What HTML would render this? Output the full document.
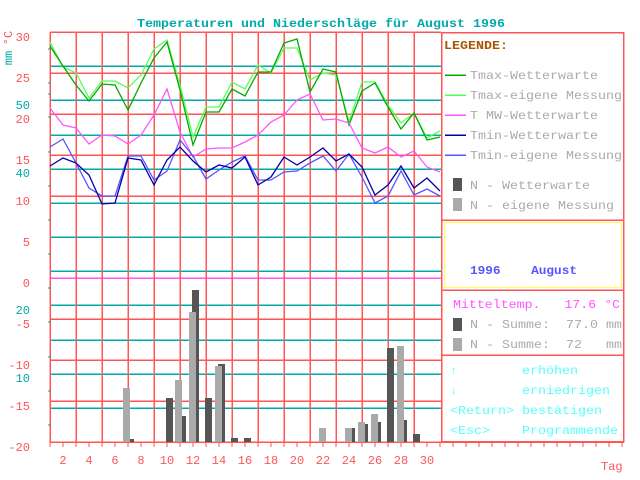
<!DOCTYPE html>
<html><head><meta charset="utf-8"><style>
html,body{margin:0;padding:0;background:#fff;width:640px;height:480px;overflow:hidden}
svg{display:block}
text{font-family:"Liberation Mono",monospace;font-size:12px;white-space:pre}
</style></head><body>
<svg width="640" height="480" viewBox="0 0 640 480" xmlns="http://www.w3.org/2000/svg" shape-rendering="crispEdges" xml:space="preserve">
<text x="137" y="27" fill="#00aaaa" font-weight="bold" textLength="368" lengthAdjust="spacingAndGlyphs">Temperaturen und Niederschläge für August 1996</text>
<g stroke="#00aaaa" stroke-width="1.5">
<line x1="50" x2="441" y1="66" y2="66"/><line x1="50" x2="441" y1="100" y2="100"/><line x1="50" x2="441" y1="135" y2="135"/><line x1="50" x2="441" y1="169" y2="169"/><line x1="50" x2="441" y1="203" y2="203"/><line x1="50" x2="441" y1="237" y2="237"/><line x1="50" x2="441" y1="271" y2="271"/><line x1="50" x2="441" y1="305" y2="305"/><line x1="50" x2="441" y1="340" y2="340"/><line x1="50" x2="441" y1="374" y2="374"/><line x1="50" x2="441" y1="408" y2="408"/>
</g>
<line x1="50" x2="441" y1="278" y2="278" stroke="#ff55ff" stroke-width="1.5"/>
<g stroke="#ff5555" stroke-width="1.5">
<line x1="50" x2="441" y1="32" y2="32"/><line x1="50" x2="441" y1="73" y2="73"/><line x1="50" x2="441" y1="114" y2="114"/><line x1="50" x2="441" y1="155" y2="155"/><line x1="50" x2="441" y1="196" y2="196"/><line x1="50" x2="441" y1="319" y2="319"/><line x1="50" x2="441" y1="360" y2="360"/><line x1="50" x2="441" y1="401" y2="401"/><line x1="50" x2="624" y1="442" y2="442"/>
<line x1="50" x2="50" y1="32" y2="442"/><line x1="76" x2="76" y1="32" y2="442"/><line x1="102" x2="102" y1="32" y2="442"/><line x1="128" x2="128" y1="32" y2="442"/><line x1="154" x2="154" y1="32" y2="442"/><line x1="180" x2="180" y1="32" y2="442"/><line x1="206" x2="206" y1="32" y2="442"/><line x1="232" x2="232" y1="32" y2="442"/><line x1="258" x2="258" y1="32" y2="442"/><line x1="284" x2="284" y1="32" y2="442"/><line x1="310" x2="310" y1="32" y2="442"/><line x1="336" x2="336" y1="32" y2="442"/><line x1="362" x2="362" y1="32" y2="442"/><line x1="388" x2="388" y1="32" y2="442"/><line x1="414" x2="414" y1="32" y2="442"/>
</g>
<g stroke="#ff5555" stroke-width="1">
<path d="M50 442v5M63 442v5M76 442v5M89 442v5M102 442v5M115 442v5M128 442v5M141 442v5M154 442v5M167 442v5M180 442v5M193 442v5M206 442v5M219 442v5M232 442v5M245 442v5M258 442v5M271 442v5M284 442v5M297 442v5M310 442v5M323 442v5M336 442v5M349 442v5M362 442v5M375 442v5M388 442v5M401 442v5M414 442v5M427 442v5M440 442v5M453 442v5M466 442v5M479 442v5M492 442v5M505 442v5M518 442v5M531 442v5M544 442v5M557 442v5M570 442v5M583 442v5M596 442v5M609 442v5M622 442v5"/>
</g>
<g stroke="#00aaaa" stroke-width="1"><path d="M48 49h3M48 83h3M48 94h3M48 117h3M48 152h3M48 186h3M48 220h3M48 254h3M48 288h3M48 322h3M48 357h3M48 391h3M48 425h3"/></g>
<g fill="#555555">
<rect x="127" y="439" width="7" height="3"/><rect x="166" y="398" width="7" height="44"/><rect x="179" y="416" width="7" height="26"/><rect x="192" y="290" width="7" height="152"/><rect x="205" y="398" width="7" height="44"/><rect x="218" y="364" width="7" height="78"/><rect x="231" y="438" width="7" height="4"/><rect x="244" y="438" width="7" height="4"/><rect x="348" y="428" width="7" height="14"/><rect x="361" y="424" width="7" height="18"/><rect x="374" y="422" width="7" height="20"/><rect x="387" y="348" width="7" height="94"/><rect x="400" y="420" width="7" height="22"/><rect x="413" y="434" width="7" height="8"/>
</g>
<g fill="#aaaaaa">
<rect x="123" y="388" width="7" height="54"/><rect x="175" y="380" width="7" height="62"/><rect x="189" y="312" width="7" height="130"/><rect x="215" y="366" width="7" height="76"/><rect x="319" y="428" width="7" height="14"/><rect x="345" y="428" width="7" height="14"/><rect x="358" y="422" width="7" height="20"/><rect x="371" y="414" width="7" height="28"/><rect x="397" y="346" width="7" height="96"/>
</g>
<g fill="none" stroke-width="1.3" shape-rendering="auto">
<polyline stroke="#55ff55" points="50,42 63,67 76,73 89,98 102,81 115,81 128,88 141,75 154,49 167,40 180,85 193,137 206,107 219,107 232,82 245,89 258,65 271,73 284,48 297,48 310,80 323,73 336,75 349,122 362,82 375,82 388,105 401,123 414,113 427,138 440,131"/>
<polyline stroke="#00aa00" points="50,46 63,66 76,85 89,101 102,84 115,85 128,110 141,83 154,58 167,42 180,90 193,145 206,112 219,112 232,89 245,96 258,72 271,72 284,43 297,39 310,92 323,69 336,72 349,125 362,91 375,83 388,107 401,129 414,113 427,140 440,137"/>
<polyline stroke="#ff55ff" points="50,108 63,125 76,128 89,144 102,135 115,136 128,144 141,135 154,115 167,89 180,132 193,157 206,149 219,148 232,148 245,142 258,135 271,122 284,115 297,100 310,94 323,120 336,119 349,123 362,148 375,153 388,147 401,157 414,151 427,167 440,172"/>
<polyline stroke="#5555ff" points="50,147 63,139 76,163 89,188 102,196 115,196 128,156 141,156 154,180 167,171 180,140 193,156 206,179 219,170 232,162 245,156 258,180 271,180 284,172 297,171 310,163 323,156 336,171 349,154 362,177 375,203 388,196 401,171 414,195 427,189 440,196"/>
<polyline stroke="#0000aa" points="50,166 63,158 76,163 89,175 102,204 115,203 128,158 141,160 154,185 167,160 180,147 193,161 206,172 219,165 232,168 245,157 258,185 271,177 284,157 297,165 310,157 323,148 336,161 349,154 362,167 375,195 388,185 401,166 414,188 427,178 440,191"/>
</g>
<g fill="#ff5555" text-anchor="end">
<text x="30" y="41">30</text><text x="30" y="82">25</text><text x="30" y="123">20</text><text x="30" y="164">15</text><text x="30" y="205">10</text><text x="30" y="246">5</text><text x="30" y="287">0</text><text x="30" y="328">-5</text><text x="30" y="369">-10</text><text x="30" y="410">-15</text><text x="30" y="451">-20</text>
</g>
<g fill="#00aaaa" text-anchor="end">
<text x="30" y="109">50</text><text x="30" y="177">40</text><text x="30" y="314">20</text><text x="30" y="382">10</text>
</g>
<text transform="translate(12,38) rotate(-90)" fill="#ff5555" font-size="10" text-anchor="middle">°C</text>
<text transform="translate(12,58) rotate(-90)" fill="#00aaaa" font-size="10" text-anchor="middle">mm</text>
<g fill="#ff5555" text-anchor="middle">
<text x="63" y="464">2</text><text x="89" y="464">4</text><text x="115" y="464">6</text><text x="141" y="464">8</text><text x="167" y="464">10</text><text x="193" y="464">12</text><text x="219" y="464">14</text><text x="245" y="464">16</text><text x="271" y="464">18</text><text x="297" y="464">20</text><text x="323" y="464">22</text><text x="349" y="464">24</text><text x="375" y="464">26</text><text x="401" y="464">28</text><text x="427" y="464">30</text>
</g>
<text x="601" y="470" fill="#ff5555">Tag</text>
<rect x="441.5" y="32.5" width="182" height="409" fill="#fff" stroke="#ff5555" stroke-width="1.5"/>
<g stroke="#ff5555" stroke-width="1.5"><line x1="441" x2="624" y1="220" y2="220"/><line x1="441" x2="624" y1="290" y2="290"/><line x1="441" x2="624" y1="355" y2="355"/></g>
<rect x="444.5" y="222.5" width="177" height="65" fill="none" stroke="#ffff55" stroke-width="1"/>
<text x="444" y="49" fill="#aa5500" font-weight="bold" textLength="64" lengthAdjust="spacingAndGlyphs">LEGENDE:</text>
<g stroke-width="1.5"><line x1="445" x2="466" y1="75" y2="75" stroke="#00aa00"/><line x1="445" x2="466" y1="95" y2="95" stroke="#55ff55"/><line x1="445" x2="466" y1="115" y2="115" stroke="#ff55ff"/><line x1="445" x2="466" y1="135" y2="135" stroke="#0000aa"/><line x1="445" x2="466" y1="155" y2="155" stroke="#5555ff"/></g>
<g fill="#aaaaaa">
<text x="470" y="79" textLength="128" lengthAdjust="spacingAndGlyphs">Tmax-Wetterwarte</text>
<text x="470" y="99" textLength="152" lengthAdjust="spacingAndGlyphs">Tmax-eigene Messung</text>
<text x="470" y="119" textLength="128" lengthAdjust="spacingAndGlyphs">T MW-Wetterwarte</text>
<text x="470" y="139" textLength="128" lengthAdjust="spacingAndGlyphs">Tmin-Wetterwarte</text>
<text x="470" y="159" textLength="152" lengthAdjust="spacingAndGlyphs">Tmin-eigene Messung</text>
<text x="470" y="189" textLength="120" lengthAdjust="spacingAndGlyphs">N - Wetterwarte</text>
<text x="470" y="209" textLength="144" lengthAdjust="spacingAndGlyphs">N - eigene Messung</text>
<text x="470" y="328" textLength="152" lengthAdjust="spacingAndGlyphs">N - Summe:  77.0 mm</text>
<text x="470" y="348" textLength="152" lengthAdjust="spacingAndGlyphs">N - Summe:  72   mm</text>
</g>
<rect x="453" y="178" width="9" height="13" fill="#555555"/><rect x="453" y="198" width="9" height="13" fill="#aaaaaa"/>
<rect x="453" y="318" width="9" height="13" fill="#555555"/><rect x="453" y="338" width="9" height="13" fill="#aaaaaa"/>
<text x="470" y="274" fill="#5555ff" font-weight="bold" textLength="107" lengthAdjust="spacingAndGlyphs">1996    August</text>
<text x="453" y="308" fill="#ff55ff" textLength="167" lengthAdjust="spacingAndGlyphs">Mitteltemp.   17.6 °C</text>
<g fill="#55ffff">
<text x="450" y="374">↑</text><text x="522" y="374" textLength="56" lengthAdjust="spacingAndGlyphs">erhöhen</text>
<text x="450" y="394">↓</text><text x="522" y="394" textLength="88" lengthAdjust="spacingAndGlyphs">erniedrigen</text>
<text x="450" y="414" textLength="64" lengthAdjust="spacingAndGlyphs">&lt;Return&gt;</text><text x="522" y="414" textLength="80" lengthAdjust="spacingAndGlyphs">bestätigen</text>
<text x="450" y="434" textLength="40" lengthAdjust="spacingAndGlyphs">&lt;Esc&gt;</text><text x="522" y="434" textLength="96" lengthAdjust="spacingAndGlyphs">Programmende</text>
</g>
</svg>
</body></html>
